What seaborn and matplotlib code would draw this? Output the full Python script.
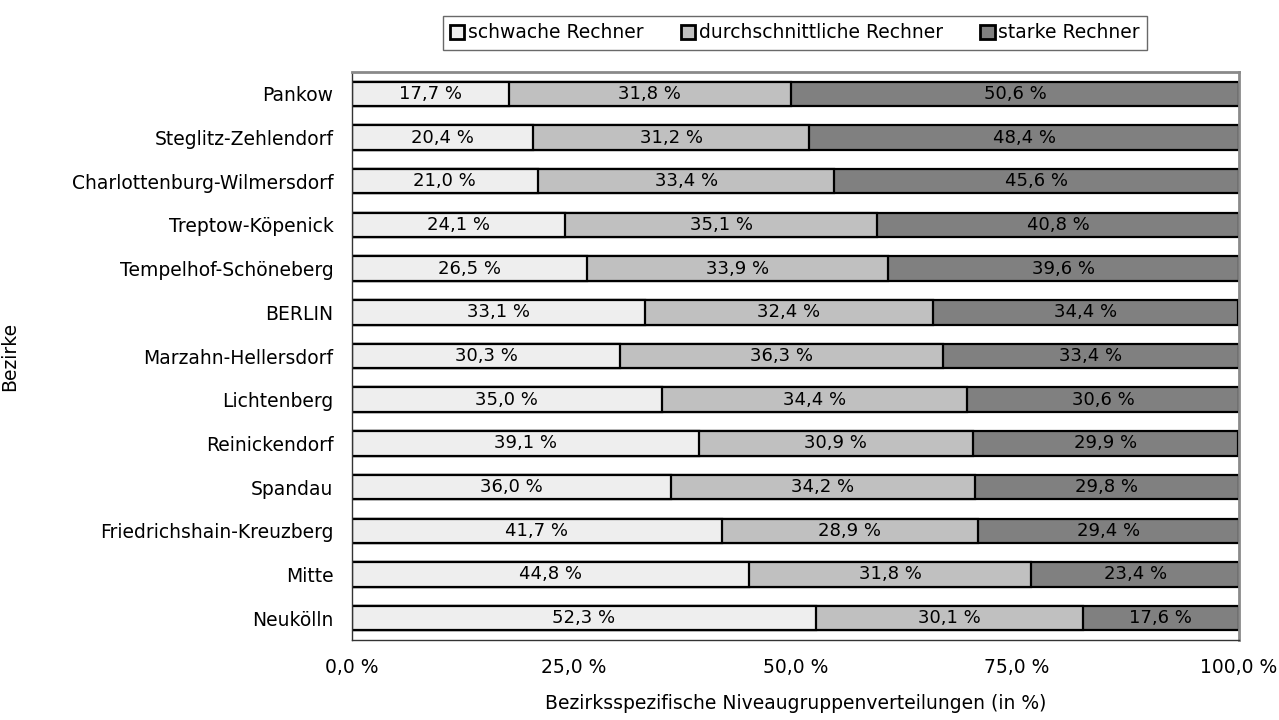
import matplotlib
matplotlib.use("Agg")
import matplotlib.pyplot as plt
import seaborn as sns
import numpy as np
import pandas as pd
from matplotlib.patches import Patch

bezirke = ["Pankow", "Steglitz-Zehlendorf", "Charlottenburg-Wilmersdorf", "Treptow-Köpenick",
           "Tempelhof-Schöneberg", "BERLIN", "Marzahn-Hellersdorf", "Lichtenberg",
           "Reinickendorf", "Spandau", "Friedrichshain-Kreuzberg", "Mitte", "Neukölln"]
schwach = [17.7, 20.4, 21.0, 24.1, 26.5, 33.1, 30.3, 35.0, 39.1, 36.0, 41.7, 44.8, 52.3]
mittel = [31.8, 31.2, 33.4, 35.1, 33.9, 32.4, 36.3, 34.4, 30.9, 34.2, 28.9, 31.8, 30.1]
stark = [50.6, 48.4, 45.6, 40.8, 39.6, 34.4, 33.4, 30.6, 29.9, 29.8, 29.4, 23.4, 17.6]
series_names = ["schwache Rechner", "durchschnittliche Rechner", "starke Rechner"]
colors = ["#eeeeee", "#c0c0c0", "#808080"]
xticks = [0, 25, 50, 75, 100]

sns.set_style("white")
plt.rcParams["font.family"] = ["DejaVu Sans"]
plt.rcParams["text.color"] = "black"
plt.rcParams["axes.labelcolor"] = "black"
plt.rcParams["xtick.color"] = "black"
plt.rcParams["ytick.color"] = "black"
FS = 13.5

df = pd.DataFrame({"Bezirk": bezirke, "s": schwach, "m": mittel, "st": stark})
df["c1"] = df["s"]
df["c2"] = df["s"] + df["m"]
df["c3"] = np.minimum(df["s"] + df["m"] + df["st"], 100.0)

fig = plt.figure(figsize=(12.79, 7.2), dpi=100)
ax = fig.add_axes([351.5/1279, 1-640/720, (1239-351.5)/1279, (640-72)/720])

for col, c in zip(["c3", "c2", "c1"], colors[::-1]):
    sns.barplot(data=df, x=col, y="Bezirk", orient="h", color=c, edgecolor="black",
                linewidth=1.6, width=0.56, ax=ax, saturation=1)

# value labels
for i in range(len(bezirke)):
    starts = [0, schwach[i], schwach[i] + mittel[i]]
    ends = [schwach[i], schwach[i] + mittel[i], min(schwach[i] + mittel[i] + stark[i], 100)]
    vals = [schwach[i], mittel[i], stark[i]]
    for s0, e0, v in zip(starts, ends, vals):
        ax.text((s0 + e0) / 2, i, f"{v:.1f} %".replace(".", ","), ha="center", va="center",
                fontsize=13, color="black")

ax.set_xlim(0, 100)
ax.set_ylim(len(bezirke) - 0.5, -0.5)
ax.set_xticks(xticks)
ax.set_xticklabels([f"{t:.1f} %".replace(".", ",") for t in xticks], fontsize=FS)
ax.set_yticks(range(len(bezirke)))
ax.set_yticklabels(bezirke, fontsize=FS)
ax.tick_params(axis="y", length=0, pad=13)
ax.tick_params(axis="x", length=0, pad=13)
# ticks at category boundaries
ax.set_yticks(np.arange(-0.5, len(bezirke)), minor=True)
ax.tick_params(axis="y", which="minor", length=5, width=1, color="#333333", direction="out")
ax.set_xticks(xticks, minor=True)
ax.tick_params(axis="x", which="minor", length=5, width=1, color="#333333", direction="out")

for side in ["top", "right"]:
    ax.spines[side].set_color("#8a8a8a")
    ax.spines[side].set_linewidth(2.0)
for side in ["left", "bottom"]:
    ax.spines[side].set_color("#333333")
    ax.spines[side].set_linewidth(1.0)

ax.set_ylabel("Bezirke", fontsize=FS)
ax.yaxis.set_label_coords(-0.375, 0.5)
ax.set_xlabel("Bezirksspezifische Niveaugruppenverteilungen (in %)", fontsize=FS, labelpad=12)

handles = [Patch(facecolor=c, edgecolor="black", linewidth=2.0) for c in colors]
fig.legend(handles, series_names, loc="center", bbox_to_anchor=(795/1279, 1-33/720),
           ncol=3, fontsize=FS, frameon=True, fancybox=False, edgecolor="#444444",
           handlelength=0.75, handleheight=0.75, handletextpad=0.2, columnspacing=2.0,
           borderpad=0.4, borderaxespad=0)

fig.savefig("out.png", dpi=100)
